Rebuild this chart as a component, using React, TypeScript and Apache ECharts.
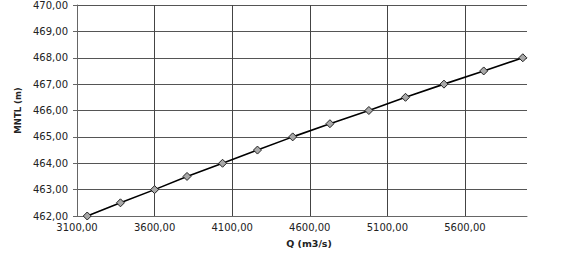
import React, { useEffect, useRef } from "react";
import * as echarts from "echarts";

const qValues = [3166, 3380, 3600, 3809, 4038, 4263, 4490, 4730, 4981, 5217, 5465, 5721, 5973];
const levelValues = [462.0, 462.5, 463.0, 463.5, 464.0, 464.5, 465.0, 465.5, 466.0, 466.5, 467.0, 467.5, 468.0];
const xAxisTitle = "Q (m3/s)";
const yAxisTitle = "MNTL (m)";

const fmt = (v: number) => v.toFixed(2).replace(".", ",");

export default function App() {
  const ref = useRef<HTMLDivElement>(null);
  useEffect(() => {
    if (!ref.current) return;
    const chart = echarts.init(ref.current, undefined, { renderer: "svg" });
    const data = qValues.map((q, i) => [q, levelValues[i]]);
    chart.setOption({
      animation: false,
      backgroundColor: "#ffffff",
      grid: { left: 77, right: 40, top: 5, bottom: 30, containLabel: false },
      xAxis: {
        type: "value",
        min: 3100,
        max: 6000,
        interval: 500,
        name: xAxisTitle,
        nameLocation: "middle",
        nameGap: 22,
        nameTextStyle: { fontFamily: "DejaVu Sans", fontSize: 9.5, fontWeight: "bold", color: "#222", padding: [0, 0, 0, 14] },
        axisLine: { show: true, lineStyle: { color: "#666", width: 1 } },
        axisTick: { show: false },
        axisLabel: {
          fontFamily: "DejaVu Sans",
          fontSize: 10,
          color: "#222",
          margin: 6,
          showMaxLabel: false,
          formatter: (v: number) => (v >= 6000 ? "" : fmt(v)),
        },
        splitLine: { show: true, showMinLine: false, showMaxLine: false, lineStyle: { color: "#444", width: 1 } },
      },
      yAxis: {
        type: "value",
        min: 462,
        max: 470,
        interval: 1,
        name: yAxisTitle,
        nameLocation: "middle",
        nameGap: 52,
        nameTextStyle: { fontFamily: "DejaVu Sans", fontSize: 8.5, fontWeight: "bold", color: "#222" },
        axisLine: { show: true, lineStyle: { color: "#666", width: 1 } },
        axisTick: { show: true, length: 4, lineStyle: { color: "#666" } },
        axisLabel: {
          fontFamily: "DejaVu Sans",
          fontSize: 10,
          color: "#222",
          margin: 9,
          formatter: (v: number) => fmt(v),
        },
        splitLine: { show: true, lineStyle: { color: "#555", width: 1 } },
      },
      series: [
        {
          type: "line",
          data,
          symbol: "diamond",
          symbolSize: 8,
          itemStyle: { color: "#a8a8a8", borderColor: "#222", borderWidth: 1 },
          lineStyle: { color: "#000", width: 1.6 },
        },
      ],
    });
    return () => chart.dispose();
  }, []);
  return <div ref={ref} style={{ width: 567, height: 253, position: "absolute", left: 0, top: 0 }} />;
}
